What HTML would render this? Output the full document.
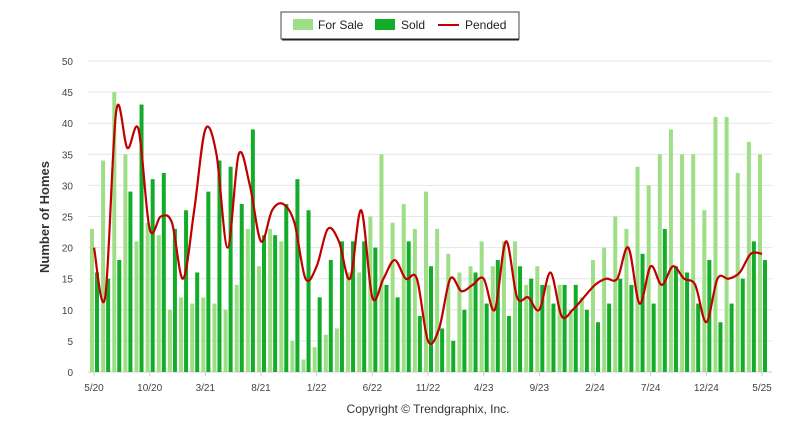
<!DOCTYPE html>
<html><head><meta charset="utf-8"><style>
body{margin:0;background:#fff;font-family:"Liberation Sans",sans-serif}
svg text{font-family:"Liberation Sans",sans-serif}
</style></head><body>
<svg id="c" width="800" height="434" xmlns="http://www.w3.org/2000/svg">
<g>
<rect x="281" y="12" width="238" height="27" fill="#fff" stroke="#444" stroke-width="1"/>
<line x1="282" y1="39.5" x2="519" y2="39.5" stroke="#222" stroke-width="2"/>
<rect x="293" y="19" width="20" height="11" fill="#9ede86"/>
<text x="318" y="29" font-size="12" fill="#222">For Sale</text>
<rect x="375" y="19" width="20" height="11" fill="#12ab2a"/>
<text x="401" y="29" font-size="12" fill="#222">Sold</text>
<line x1="438" y1="25" x2="459" y2="25" stroke="#c00000" stroke-width="2"/>
<text x="465" y="29" font-size="12" fill="#222">Pended</text>
</g>
<text transform="translate(49,217) rotate(-90)" text-anchor="middle" font-size="13" font-weight="bold" fill="#333">Number of Homes</text>
<text x="428" y="413" text-anchor="middle" font-size="12" fill="#333">Copyright © Trendgraphix, Inc.</text>
<g id="grid"></g><g id="bars"></g><g id="line"></g><g id="axes"></g>
</svg>
<script>
const months=["5/20","6/20","7/20","8/20","9/20","10/20","11/20","12/20","1/21","2/21","3/21","4/21","5/21","6/21","7/21","8/21","9/21","10/21","11/21","12/21","1/22","2/22","3/22","4/22","5/22","6/22","7/22","8/22","9/22","10/22","11/22","12/22","1/23","2/23","3/23","4/23","5/23","6/23","7/23","8/23","9/23","10/23","11/23","12/23","1/24","2/24","3/24","4/24","5/24","6/24","7/24","8/24","9/24","10/24","11/24","12/24","1/25","2/25","3/25","4/25","5/25"];
const forSale=[23,34,45,35,21,24,22,10,12,11,12,11,10,14,23,17,23,21,5,2,4,6,7,16,16,25,35,24,27,23,29,23,19,16,17,21,17,21,21,14,17,14,14,10,12,18,20,25,23,33,30,35,39,35,35,26,41,41,32,37,35];
const sold=[16,15,18,29,43,31,32,23,26,16,29,34,33,27,39,22,22,27,31,26,12,18,21,21,21,20,14,12,21,9,17,7,5,10,16,11,18,9,17,15,14,11,14,14,10,8,11,15,14,19,11,23,17,16,11,18,8,11,15,21,18];
const pended=[20,12,42,36,39,23,25,24,15,26,39,35,20,35,30,21,26,27,24,15,17,23,21,15,26,12,15,18,15,15,5,7,15,13,14,15,10,21,12,12,10,16,9,10,12,14,15,15,20,11,17,14,17,15,14,8,15,15,16,19,19];
const yTicks=[0,5,10,15,20,25,30,35,40,45,50];
const xTickEvery=5;
const NS="http://www.w3.org/2000/svg";
const X0=94,X1=762,Y0=372,Y1=61,L=88,R=772;
const xs=i=>X0+(X1-X0)*i/(months.length-1);
const ys=v=>Y0-(Y0-Y1)*v/50;
function mk(t,a,p){const e=document.createElementNS(NS,t);for(const k in a)e.setAttribute(k,a[k]);p.appendChild(e);return e;}
const grid=document.getElementById('grid'),bars=document.getElementById('bars'),line=document.getElementById('line'),axes=document.getElementById('axes');
yTicks.forEach(v=>{
 const g=mk('line',{x1:L,x2:R,y1:ys(v),y2:ys(v),stroke:v===0?'#ccc':'#e6e6e6','stroke-width':1},grid);
 
 
 const t=mk('text',{x:73,y:ys(v)+4,'text-anchor':'end','font-size':10,fill:'#444'},axes);
 t.textContent=v;
 
 
});
months.forEach((m,i)=>{
 const c=xs(i);
 const a=mk('rect',{x:c-4,y:ys(forSale[i]),width:4,height:Y0-ys(forSale[i]),fill:'#9ede86'},bars);
 
 
 const b=mk('rect',{x:c+1,y:ys(sold[i]),width:4,height:Y0-ys(sold[i]),fill:'#12ab2a'},bars);
 
 
 if(i%xTickEvery===0){
  const tk=mk('line',{x1:c,x2:c,y1:Y0,y2:Y0+4,stroke:'#ccc'},axes);
  
  
  const t=mk('text',{x:c,y:391,'text-anchor':'middle','font-size':10,fill:'#444'},axes);
  t.textContent=m;
  
  
 }
});
const pts=pended.map((v,i)=>[xs(i),ys(v)]);
let d='M'+pts[0][0]+','+pts[0][1];
for(let i=0;i<pts.length-1;i++){
 const p0=pts[Math.max(0,i-1)],p1=pts[i],p2=pts[i+1],p3=pts[Math.min(pts.length-1,i+2)];
 const t=0.5/3*2;
 d+=' C'+(p1[0]+(p2[0]-p0[0])*t/2)+','+(p1[1]+(p2[1]-p0[1])*t/2)+' '+(p2[0]-(p3[0]-p1[0])*t/2)+','+(p2[1]-(p3[1]-p1[1])*t/2)+' '+p2[0]+','+p2[1];
}
const pl=mk('path',{d:d,fill:'none',stroke:'#c00000','stroke-width':2.2},line);


</script>
</body></html>
